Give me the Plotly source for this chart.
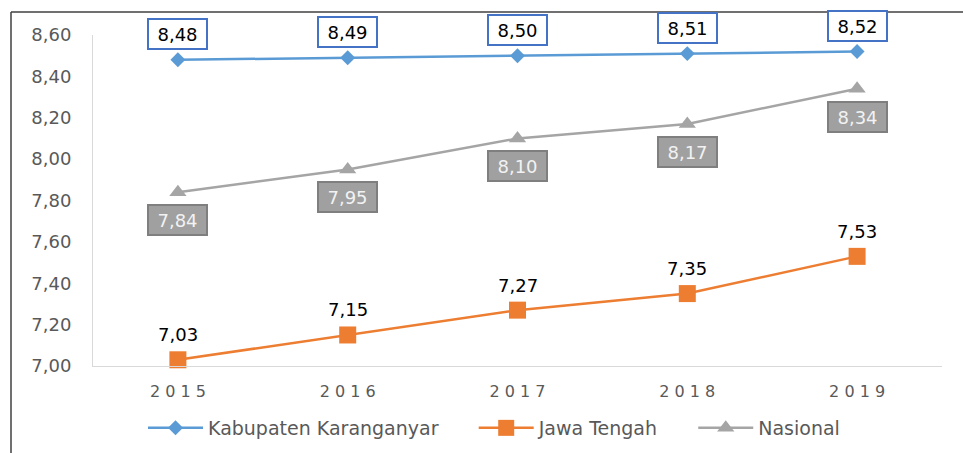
import plotly.graph_objects as go

years = ["2015", "2016", "2017", "2018", "2019"]
year_labels = ["2 0 1 5", "2 0 1 6", "2 0 1 7", "2 0 1 8", "2 0 1 9"]
kab = [8.48, 8.49, 8.50, 8.51, 8.52]
jateng = [7.03, 7.15, 7.27, 7.35, 7.53]
nasional = [7.84, 7.95, 8.10, 8.17, 8.34]
y_ticks = [7.0, 7.2, 7.4, 7.6, 7.8, 8.0, 8.2, 8.4, 8.6]

names = ["Kabupaten Karanganyar", "Jawa Tengah", "Nasional"]
colors = ["#5B9BD5", "#ED7D31", "#A5A5A5"]

def fmt(v):
    return f"{v:.2f}".replace(".", ",")

FONT = "DejaVu Sans"
W, H = 963, 453
ML, MR, MT, MB = 93, 21, 35, 87
NB = "\u00a0"

fig = go.Figure()
fig.add_trace(go.Scatter(x=years, y=kab, name=names[0] + NB * 5, mode="lines+markers",
                         line=dict(color=colors[0], width=2.5),
                         marker=dict(symbol="diamond", size=11.5, color=colors[0]),
                         cliponaxis=False))
fig.add_trace(go.Scatter(x=years, y=jateng, name=names[1] + NB * 5, mode="lines+markers",
                         line=dict(color=colors[1], width=2.5),
                         marker=dict(symbol="square", size=17, color=colors[1]),
                         cliponaxis=False))
fig.add_trace(go.Scatter(x=years, y=nasional, name=names[2], mode="lines+markers",
                         line=dict(color=colors[2], width=2.5),
                         marker=dict(symbol="triangle-up", size=15, color=colors[2]),
                         cliponaxis=False))

annotations = []
for i, v in enumerate(kab):
    annotations.append(dict(x=i, y=v, xref="x", yref="y", text=fmt(v), showarrow=False,
                            yshift=26, font=dict(family=FONT, size=18, color="#000000"),
                            bgcolor="#FFFFFF", bordercolor="#4472C4", borderwidth=2,
                            width=55, height=26, borderpad=1))
for i, v in enumerate(nasional):
    annotations.append(dict(x=i, y=v, xref="x", yref="y", text=fmt(v), showarrow=False,
                            yshift=-28, font=dict(family=FONT, size=18, color="#F2F2F2"),
                            bgcolor="#A0A0A0", bordercolor="#7F7F7F", borderwidth=2,
                            width=55, height=26, borderpad=1))
for i, v in enumerate(jateng):
    annotations.append(dict(x=i, y=v, xref="x", yref="y", text=fmt(v), showarrow=False,
                            yshift=25, font=dict(family=FONT, size=18, color="#000000")))

ph = H - MT - MB
pw = W - ML - MR
def px_x(p):
    return (p - ML) / pw
def px_y(p):
    return (H - MB - p) / ph

shapes = [
    dict(type="line", xref="paper", yref="paper", x0=px_x(11), x1=px_x(11),
         y0=px_y(12), y1=px_y(460), line=dict(color="#404040", width=1.5)),
    dict(type="line", xref="paper", yref="paper", x0=px_x(11), x1=px_x(970),
         y0=px_y(12), y1=px_y(12), line=dict(color="#404040", width=1.5)),
]

fig.update_layout(
    width=W, height=H,
    margin=dict(l=ML, r=MR, t=MT, b=MB, pad=0, autoexpand=False),
    paper_bgcolor="white", plot_bgcolor="white",
    font=dict(family=FONT, color="#595959"),
    showlegend=True,
    legend=dict(orientation="h", xref="container", yref="container",
                x=143 / W, xanchor="left", y=(H - 428) / H, yanchor="middle",
                font=dict(family=FONT, size=19, color="#595959"), itemwidth=55,
                traceorder="normal"),
    xaxis=dict(type="category", range=[-0.5, 4.5], showgrid=False, zeroline=False,
               showline=True, linecolor="#D9D9D9", linewidth=1, automargin=False,
               tickmode="array", tickvals=years, ticktext=year_labels,
               ticks="", tickfont=dict(family=FONT, size=16, color="#595959"),
               ticklabelstandoff=11),
    yaxis=dict(range=[7.0, 8.6], showgrid=False, zeroline=False,
               showline=True, linecolor="#D9D9D9", linewidth=1, automargin=False,
               tickmode="array", tickvals=y_ticks, ticktext=[fmt(v) for v in y_ticks],
               ticks="", tickfont=dict(family=FONT, size=18, color="#595959"),
               ticklabelstandoff=17),
    annotations=annotations,
    shapes=shapes,
)

fig.write_html("out.html", config={"displayModeBar": False},
               post_script="document.body.style.margin='0';")
